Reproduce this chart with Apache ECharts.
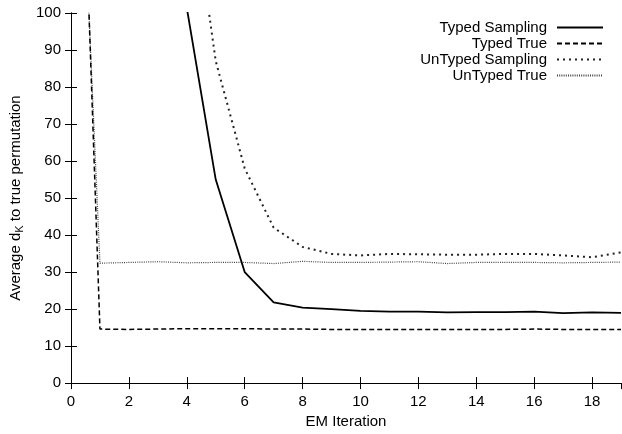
<!DOCTYPE html>
<html><head><meta charset="utf-8">
<script src="https://cdn.jsdelivr.net/npm/echarts@6/dist/echarts.min.js"></script>
<style>html,body{margin:0;padding:0;background:#fff}#c{width:622px;height:434px}</style>
</head><body><div id="c"></div>
<script>
const iterations = [0,1,2,3,4,5,6,7,8,9,10,11,12,13,14,15,16,17,18,19];
const typedSampling = [240,210,180,140,101.4,55,30,21.8,20.4,20.0,19.5,19.3,19.3,19.1,19.2,19.2,19.3,18.9,19.1,19.0];
const typedTrue = [240,14.6,14.5,14.6,14.7,14.7,14.7,14.6,14.6,14.5,14.5,14.5,14.5,14.5,14.5,14.5,14.6,14.5,14.5,14.5];
const untypedSampling = [210,200,185,165,143,87,58,42,36.8,34.9,34.5,34.9,34.8,34.7,34.7,34.9,34.9,34.5,34.0,35.3];
const untypedTrue = [210,32.4,32.6,32.8,32.5,32.6,32.6,32.3,32.9,32.6,32.6,32.7,32.8,32.3,32.6,32.6,32.6,32.5,32.6,32.7];
const seriesNames = ['Typed Sampling','Typed True','UnTyped Sampling','UnTyped True'];
const xTicks = {min:0, max:19, interval:2};
const yTicks = {min:0, max:100, interval:10};

const FONT = "'Liberation Sans', Arial, Helvetica, sans-serif";
const pairs = arr => iterations.map((x,i)=>[x,arr[i]]);
const chart = echarts.init(document.getElementById('c'), null, {renderer:'canvas'});
const baseAxis = {
  axisLine:{show:true, lineStyle:{color:'#000', width:1}},
  axisTick:{show:true, inside:true, length:6, lineStyle:{color:'#000', width:1}},
  splitLine:{show:false},
};
const styles = [
  {color:'#000', width:1.8, type:'solid'},
  {color:'#000', width:1.5, type:[5,3]},
  {color:'#222', width:2, type:[2,4]},
  {color:'#444', width:1.2, type:[1,1.2]}
];
const datas = [typedSampling, typedTrue, untypedSampling, untypedTrue];
chart.setOption({
  animation:false,
  backgroundColor:'#fff',
  textStyle:{fontFamily:FONT},
  grid:{left:67, right:1, top:13, bottom:48, containLabel:false},
  legend:{
    orient:'vertical', right:13, top:15, align:'right',
    itemWidth:46, itemHeight:14, itemGap:1,
    itemStyle:{opacity:0},
    textStyle:{fontFamily:FONT, fontSize:15, lineHeight:14, color:'#000', padding:[0,5,0,0]},
    data:seriesNames
  },
  xAxis:[
    Object.assign({}, baseAxis, {type:'value', position:'bottom', min:xTicks.min, max:xTicks.max, interval:xTicks.interval,
      axisLabel:{fontSize:15, color:'#000', fontFamily:FONT, margin:11, showMaxLabel:false},
      name:'EM Iteration', nameLocation:'middle', nameGap:30,
      nameTextStyle:{fontSize:15, color:'#000', fontFamily:FONT}}),
    Object.assign({}, baseAxis, {type:'value', position:'top', min:xTicks.min, max:xTicks.max, interval:xTicks.interval,
      axisLabel:{show:false}})
  ],
  yAxis:[
    Object.assign({}, baseAxis, {type:'value', position:'left', min:yTicks.min, max:yTicks.max, interval:yTicks.interval,
      axisLabel:{fontSize:15, color:'#000', fontFamily:FONT, margin:10},
      name:'{a|Average d}{s|K}{a| to true permutation}', nameLocation:'middle', nameGap:46, nameRotate:90,
      nameTextStyle:{color:'#000', fontFamily:FONT, rich:{
        a:{fontSize:15, fontFamily:FONT, color:'#000', lineHeight:18, verticalAlign:'middle'},
        s:{fontSize:11, fontFamily:FONT, color:'#000', lineHeight:18, verticalAlign:'bottom', padding:[6,0,0,0]}
      }}}),
    Object.assign({}, baseAxis, {type:'value', position:'right', min:yTicks.min, max:yTicks.max, interval:yTicks.interval,
      axisLabel:{show:false}})
  ],
  series: seriesNames.map((n,i)=>({
    name:n, type:'line', data:pairs(datas[i]), showSymbol:false, symbol:'none',
    lineStyle:styles[i], itemStyle:{color:styles[i].color}, clip:true, z:10-i
  }))
});
</script></body></html>
